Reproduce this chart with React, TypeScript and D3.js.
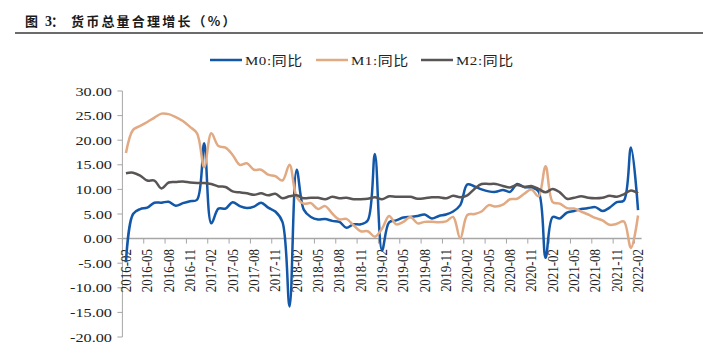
import React from "react";
import * as d3 from "d3";

const categories: string[] = [
  "2016-02","2016-03","2016-04","2016-05","2016-06","2016-07","2016-08","2016-09","2016-10","2016-11","2016-12",
  "2017-01","2017-02","2017-03","2017-04","2017-05","2017-06","2017-07","2017-08","2017-09","2017-10","2017-11","2017-12",
  "2018-01","2018-02","2018-03","2018-04","2018-05","2018-06","2018-07","2018-08","2018-09","2018-10","2018-11","2018-12",
  "2019-01","2019-02","2019-03","2019-04","2019-05","2019-06","2019-07","2019-08","2019-09","2019-10","2019-11","2019-12",
  "2020-01","2020-02","2020-03","2020-04","2020-05","2020-06","2020-07","2020-08","2020-09","2020-10","2020-11","2020-12",
  "2021-01","2021-02","2021-03","2021-04","2021-05","2021-06","2021-07","2021-08","2021-09","2021-10","2021-11","2021-12",
  "2022-01","2022-02",
];

const m0: number[] = [
  -4.8, 5.0, 6.0, 6.3, 7.3, 7.3, 7.5, 6.7, 7.2, 7.6, 7.9,
  19.4, 3.1, 6.1, 6.1, 7.4, 6.6, 6.2, 6.5, 7.3, 6.3, 5.5, 3.4,
  -13.8, 14.0, 5.9, 4.4, 3.9, 4.0, 3.6, 3.4, 2.2, 2.9, 2.9, 3.7,
  17.2, -2.4, 3.3, 3.7, 4.3, 4.4, 4.6, 4.9, 4.1, 4.6, 4.9, 5.5,
  6.8, 11.0, 10.6, 10.0, 9.6, 9.5, 9.9, 9.5, 11.1, 10.5, 10.4, 9.6,
  -3.9, 4.4, 4.1, 5.3, 5.6, 6.0, 6.2, 6.4, 5.6, 6.3, 7.4, 7.7,
  18.5, 5.8,
];

const m1: number[] = [
  17.4, 22.1, 22.9, 23.7, 24.6, 25.4, 25.3, 24.7, 23.9, 22.7, 21.4,
  14.5, 21.4, 18.8, 18.5, 17.0, 15.0, 15.3, 14.0, 14.0, 13.0, 12.7, 11.8,
  15.0, 8.5, 7.1, 7.2, 6.0, 6.6, 5.1, 3.9, 4.0, 2.7, 1.5, 1.5,
  0.4, 2.0, 4.6, 2.9, 3.4, 4.4, 3.1, 3.4, 3.4, 3.3, 3.5, 4.4,
  0.0, 4.8, 5.0, 5.5, 6.8, 6.5, 6.9, 8.0, 8.1, 9.1, 10.0, 8.6,
  14.7, 7.4, 7.1, 6.2, 6.1, 5.5, 4.9, 4.2, 3.7, 2.8, 3.0, 3.5,
  -1.9, 4.7,
];

const m2: number[] = [
  13.3, 13.4, 12.8, 11.8, 11.8, 10.2, 11.4, 11.5, 11.6, 11.4, 11.3,
  11.3, 11.1, 10.6, 10.5, 9.6, 9.4, 9.2, 8.9, 9.2, 8.8, 9.1, 8.2,
  8.6, 8.8, 8.2, 8.3, 8.3, 8.0, 8.5, 8.2, 8.3, 8.0, 8.0, 8.1,
  8.4, 8.0, 8.6, 8.5, 8.5, 8.5, 8.1, 8.2, 8.4, 8.4, 8.2, 8.7,
  8.4, 8.8, 10.1, 11.1, 11.1, 11.1, 10.7, 10.4, 10.9, 10.5, 10.7, 10.1,
  9.4, 10.1, 9.4, 8.1, 8.3, 8.6, 8.3, 8.2, 8.3, 8.7, 8.5, 9.0,
  9.8, 9.2,
];

const yTicks: number[] = [30, 25, 20, 15, 10, 5, 0, -5, -10, -15, -20];
const seriesNames: string[] = ["M0:同比", "M1:同比", "M2:同比"];
const seriesColors: string[] = ["#1257a8", "#e1aa83", "#5a5555"];

export default function App() {
  const W = 703, H = 357;
  const x0 = 122.4, x1 = 641.6;
  const x = d3.scaleBand<string>().domain(categories).range([x0, x1]).padding(0);
  const bw = x.bandwidth();
  const y = d3.scaleLinear().domain([-20, 30]).range([337, 91]);
  const xc = (i: number) => (x(categories[i]) as number) + bw / 2;
  const line = d3
    .line<number>()
    .x((_, i) => xc(i))
    .y((d) => y(d))
    .curve(d3.curveCatmullRom.alpha(0.5));
  const series = [m0, m1, m2];
  const axisColor = "#a6a6a6";
  const labelIdx = categories.map((_, i) => i).filter((i) => i % 3 === 0);
  const tickBoundaries = d3.range(0, categories.length + 1, 3);
  const legendX = [210, 316, 421];
  const serif = "'Liberation Serif', 'Times New Roman', serif";
  const cjk = "'Liberation Serif', 'Noto Sans CJK SC', sans-serif";

  return (
    <svg
      width={W}
      height={H}
      style={{ position: "absolute", left: 0, top: 0, background: "#fff" }}
      fontFamily={serif}
    >
      {/* title */}
      <g fontFamily="'Noto Sans CJK SC', sans-serif" fontWeight={700} fontSize={13} fill="#1a1a1a">
        <text x={25} y={26}>图</text>
        <text x={45} y={26} fontFamily={serif} fontSize={14}>3</text>
        <text x={51} y={26}>：</text>
        <text x={71} y={26} letterSpacing={2.2}>货币总量合理增长（%）</text>
      </g>
      <line x1={15} x2={703} y1={33} y2={33} stroke="#3a3a3a" strokeWidth={1.5} />

      {/* legend */}
      {seriesNames.map((n, k) => (
        <g key={n}>
          <line
            x1={legendX[k]}
            x2={legendX[k] + 32}
            y1={60}
            y2={60}
            stroke={seriesColors[k]}
            strokeWidth={2.5}
          />
          <text
            transform={`translate(${legendX[k] + 35},65) scale(1.15,1)`}
            fontSize={13}
            fontFamily={cjk}
            fill="#222"
            letterSpacing={0.5}
          >
            {n}
          </text>
        </g>
      ))}

      {/* y axis */}
      <line x1={x0} x2={x0} y1={y(30)} y2={y(-20)} stroke={axisColor} strokeWidth={1} />
      {yTicks.map((t) => (
        <g key={t}>
          <line x1={x0 - 5} x2={x0} y1={y(t)} y2={y(t)} stroke={axisColor} strokeWidth={1} />
          <text
            transform={`translate(112,${y(t)}) scale(1.25,1)`}
            textAnchor="end"
            dy="0.35em"
            fontSize={13}
            fill="#222"
          >
            {t.toFixed(2)}
          </text>
        </g>
      ))}

      {/* x axis */}
      <line x1={x0} x2={x1} y1={y(0)} y2={y(0)} stroke={axisColor} strokeWidth={1.5} />
      {tickBoundaries.map((b) => {
        const bx = x0 + b * bw;
        return (
          <line key={b} x1={bx} x2={bx} y1={y(0)} y2={y(0) + 5} stroke={axisColor} strokeWidth={1} />
        );
      })}
      {labelIdx.map((i) => (
        <text
          key={i}
          transform={`translate(${xc(i)},249) scale(1.15,1) rotate(-90)`}
          textAnchor="end"
          dy="0.33em"
          fontSize={13}
          fill="#222"
        >
          {categories[i]}
        </text>
      ))}

      {/* series */}
      {series.map((s, k) => (
        <path
          key={k}
          d={line(s) || ""}
          fill="none"
          stroke={seriesColors[k]}
          strokeWidth={2.5}
          strokeLinejoin="round"
        />
      ))}
    </svg>
  );
}
